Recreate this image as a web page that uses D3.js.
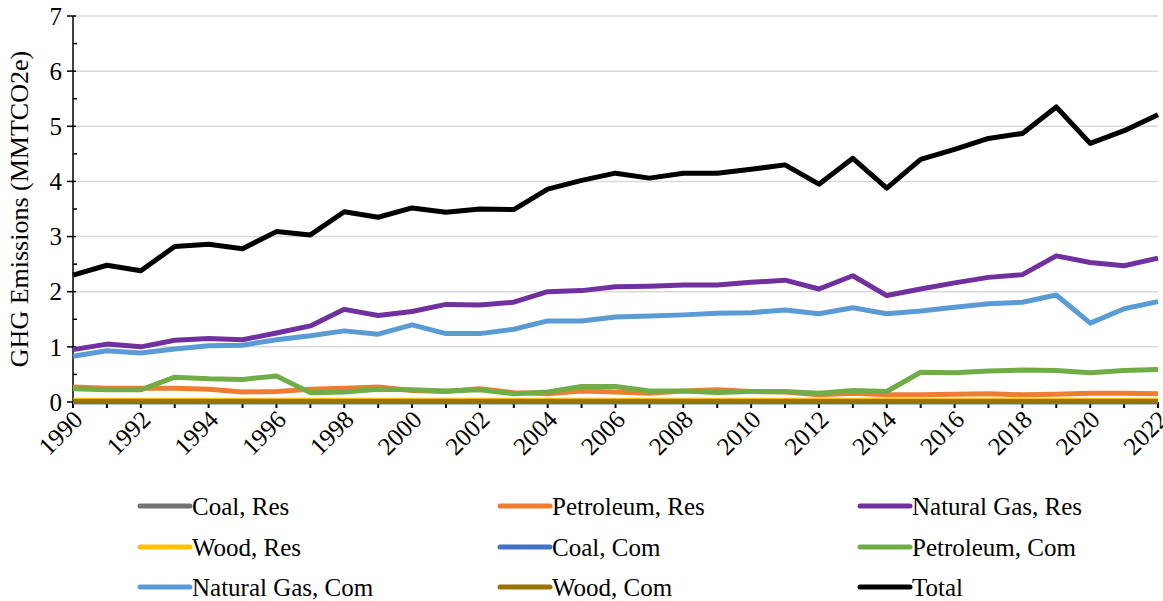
<!DOCTYPE html>
<html>
<head>
<meta charset="utf-8">
<script src="https://cdn.jsdelivr.net/npm/d3@7"></script>
<style>
  body { margin: 0; background: #fff; }
  svg { font-family: "Liberation Serif", "Times New Roman", serif; }
</style>
</head>
<body>
<div id="chart"></div>
<script>
// GHG emissions by fuel, residential + commercial, 1990-2022
const width = 1163, height = 601;
const margin = {top: 16, right: 5, bottom: 199, left: 73};

const years = d3.range(1990, 2023);

const coalRes = years.map(() => 0.005);
const petroleumRes = [0.27, 0.25, 0.25, 0.25, 0.23, 0.18, 0.19, 0.23, 0.25, 0.27, 0.21, 0.19, 0.24, 0.17, 0.15, 0.20, 0.18, 0.16, 0.20, 0.22, 0.19, 0.18, 0.13, 0.16, 0.13, 0.13, 0.14, 0.15, 0.13, 0.14, 0.16, 0.16, 0.15];
const naturalGasRes = [0.95, 1.05, 1.00, 1.12, 1.15, 1.13, 1.25, 1.38, 1.68, 1.57, 1.64, 1.77, 1.76, 1.81, 2.00, 2.02, 2.09, 2.10, 2.12, 2.12, 2.17, 2.21, 2.05, 2.29, 1.93, 2.05, 2.16, 2.26, 2.31, 2.65, 2.53, 2.47, 2.61];
const woodRes = years.map(() => 0.03);
const coalCom = years.map(() => 0.005);
const petroleumCom = [0.24, 0.22, 0.22, 0.45, 0.42, 0.41, 0.47, 0.17, 0.18, 0.23, 0.22, 0.20, 0.22, 0.15, 0.18, 0.28, 0.28, 0.20, 0.20, 0.17, 0.19, 0.19, 0.16, 0.21, 0.19, 0.54, 0.53, 0.56, 0.58, 0.57, 0.53, 0.57, 0.59];
const naturalGasCom = [0.83, 0.93, 0.89, 0.96, 1.02, 1.03, 1.13, 1.20, 1.29, 1.23, 1.40, 1.24, 1.24, 1.32, 1.47, 1.47, 1.54, 1.56, 1.58, 1.61, 1.62, 1.67, 1.60, 1.71, 1.60, 1.65, 1.72, 1.78, 1.81, 1.94, 1.43, 1.69, 1.82];
const woodCom = years.map(() => 0.01);
const total = [2.30, 2.48, 2.38, 2.82, 2.86, 2.78, 3.09, 3.03, 3.45, 3.35, 3.52, 3.44, 3.50, 3.49, 3.86, 4.02, 4.15, 4.06, 4.15, 4.15, 4.22, 4.30, 3.95, 4.42, 3.88, 4.40, 4.58, 4.78, 4.87, 5.35, 4.69, 4.92, 5.21];

const seriesNames = ["Coal, Res", "Petroleum, Res", "Natural Gas, Res", "Wood, Res", "Coal, Com", "Petroleum, Com", "Natural Gas, Com", "Wood, Com", "Total"];
const seriesValues = [coalRes, petroleumRes, naturalGasRes, woodRes, coalCom, petroleumCom, naturalGasCom, woodCom, total];
const colors = ["#767171", "#ED7D31", "#7030A0", "#FFC000", "#4472C4", "#70AD47", "#5B9BD5", "#997300", "#000000"];

const svg = d3.select("#chart").append("svg")
  .attr("width", width).attr("height", height);

const x = d3.scaleLinear().domain([1990, 2022]).range([margin.left, width - margin.right]);
const y = d3.scaleLinear().domain([0, 7]).range([height - margin.bottom, margin.top]);
const y0 = y(0);

// gridlines
svg.append("g").selectAll("line").data(d3.range(1, 8)).join("line")
  .attr("x1", margin.left).attr("x2", width - margin.right)
  .attr("y1", d => y(d)).attr("y2", d => y(d))
  .attr("stroke", "#d9d9d9").attr("stroke-width", 1.5);

// y axis: major ticks crossing, minor ticks inside
const yAxis = svg.append("g").attr("transform", `translate(${margin.left},0)`);
yAxis.append("line").attr("y1", y(7)).attr("y2", y0).attr("stroke", "#000").attr("stroke-width", 1.5);
yAxis.selectAll("line.maj").data(d3.range(0, 8)).join("line").attr("class", "maj")
  .attr("x1", -6).attr("x2", 3).attr("y1", d => y(d)).attr("y2", d => y(d))
  .attr("stroke", "#000").attr("stroke-width", 1.5);
yAxis.selectAll("line.min").data(d3.range(0.5, 7, 1)).join("line").attr("class", "min")
  .attr("x1", 0).attr("x2", 4).attr("y1", d => y(d)).attr("y2", d => y(d))
  .attr("stroke", "#000").attr("stroke-width", 1.5);
yAxis.selectAll("text").data(d3.range(0, 8)).join("text")
  .attr("x", -11).attr("y", d => y(d)).attr("dy", "0.35em")
  .attr("text-anchor", "end").attr("font-size", 25).text(d => d);

svg.append("text")
  .attr("transform", `translate(28,${(y(7) + y0) / 2}) rotate(-90)`)
  .attr("text-anchor", "middle").attr("font-size", 26)
  .text("GHG Emissions (MMTCO2e)");

// x axis
const xAxis = svg.append("g");
xAxis.append("line").attr("x1", margin.left).attr("x2", width - margin.right)
  .attr("y1", y0).attr("y2", y0).attr("stroke", "#000").attr("stroke-width", 1.5);
xAxis.selectAll("line.tk").data(years).join("line").attr("class", "tk")
  .attr("x1", d => x(d)).attr("x2", d => x(d)).attr("y1", y0).attr("y2", y0 + 6)
  .attr("stroke", "#000").attr("stroke-width", 2);
xAxis.selectAll("text").data(years.filter(d => d % 2 === 0)).join("text")
  .attr("transform", d => `translate(${x(d) + 5},${y0 + 13}) rotate(-45)`)
  .attr("text-anchor", "end").attr("dy", "0.35em").attr("font-size", 25)
  .text(d => d);

// lines
const line = d3.line().x((d, i) => x(years[i])).y(d => y(d));
svg.append("g").selectAll("path").data(seriesValues).join("path")
  .attr("d", line).attr("fill", "none")
  .attr("stroke", (d, i) => colors[i]).attr("stroke-width", 5)
  .attr("stroke-linejoin", "round");

// legend
const legCols = [140, 500, 860], legRows = [506, 547, 587];
const legend = svg.append("g").selectAll("g").data(seriesNames).join("g")
  .attr("transform", (d, i) => `translate(${legCols[i % 3]},${legRows[Math.floor(i / 3)]})`);
legend.append("line").attr("x1", 0).attr("x2", 50).attr("y1", 0).attr("y2", 0)
  .attr("stroke", (d, i) => colors[i]).attr("stroke-width", 5).attr("stroke-linecap", "round");
legend.append("text").attr("x", 52).attr("dy", "0.35em").attr("font-size", 25).text(d => d);
</script>
</body>
</html>
